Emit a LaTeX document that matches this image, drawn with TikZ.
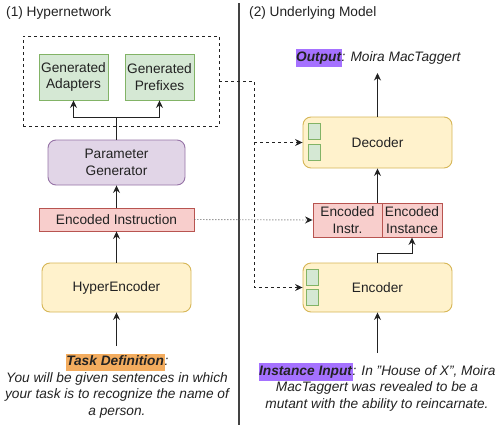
\documentclass[tikz,border=0pt]{standalone}
\usepackage{fontspec}
\setmainfont{Liberation Sans}
\usetikzlibrary{arrows.meta,positioning}
\definecolor{gfill}{HTML}{D5E8D4}\definecolor{gdraw}{HTML}{82B366}
\definecolor{pfill}{HTML}{E1D5E7}\definecolor{pdraw}{HTML}{9673A6}
\definecolor{rfill}{HTML}{F8CECC}\definecolor{rdraw}{HTML}{B85450}
\definecolor{yfill}{HTML}{FFF2CC}\definecolor{ydraw}{HTML}{D6B656}
\definecolor{hlorange}{HTML}{F3AC5E}\definecolor{hlpurple}{HTML}{A571FF}
\definecolor{ink}{HTML}{222222}
\newcommand{\hl}[2]{{\setlength{\fboxsep}{0.6pt}\colorbox{#1}{\strut #2}}}
\begin{document}
\begin{tikzpicture}[x=1pt,y=-1pt,
  every node/.style={font=\fontsize{13.7}{16.5}\selectfont, inner sep=0pt, text=ink},
  gbox/.style={draw=gdraw, fill=gfill, line width=0.9pt, minimum width=69pt, minimum height=46pt, align=center},
  pbox/.style={draw=pdraw, fill=pfill, line width=0.9pt, rounded corners=8pt, align=center},
  rbox/.style={draw=rdraw, fill=rfill, line width=0.9pt, align=center},
  ybox/.style={draw=ydraw, fill=yfill, line width=0.9pt, rounded corners=8pt, align=center},
  sq/.style={draw=gdraw, fill=gfill, line width=0.9pt, minimum width=12pt, minimum height=16pt},
  arr/.style={draw=ink, line width=0.9pt, -{Stealth[length=7.5pt,width=7pt,inset=2.5pt,color=ink]}},
  dasharr/.style={arr, dash pattern=on 3pt off 3pt},
  dotarr/.style={arr, dash pattern=on 1pt off 2pt, draw=ink!70},
]
\useasboundingbox (0,0) rectangle (500,431);

% divider
\draw[line width=1.2pt, draw=ink!85] (239,3) -- (239,425);

% titles
\node[anchor=west] (t1) at (6,13) {(1) Hypernetwork};
\node[anchor=west] (t2) at (249,13) {(2) Underlying Model};

% left side
\node[draw=ink, line width=0.9pt, dash pattern=on 3pt off 3pt, minimum width=196pt, minimum height=90pt] (dbox) at (121,81) {};
\node[gbox] (gadapt) at (73.5,77) {Generated\\Adapters};
\node[gbox] (gpref) at (159.5,77) {Generated\\Prefixes};
\node[pbox, minimum width=137pt, minimum height=45pt] (pgen) at (116.5,162.5) {Parameter\\Generator};
\node[rbox, minimum width=155pt, minimum height=23pt] (encinst) at (116.5,219.5) {Encoded Instruction};
\node[ybox, minimum width=149pt, minimum height=49pt] (hyperenc) at (116.5,287.5) {HyperEncoder};
\node[align=center, font=\fontsize{13.7}{16.5}\selectfont\itshape] (taskdef) at (117,386)
  {\hl{hlorange}{\bfseries Task Definition}:\\You will be given sentences in which\\your task is to recognize the name of\\a person.};

\coordinate (split) at (116.5,117);
\coordinate (taskin) at (116.5,346);
\draw[arr] (pgen.north) -- (split) -| (gadapt.south);
\draw[arr] (split) -| (gpref.south);
\draw[arr] (encinst.north) -- (pgen.south);
\draw[arr] (hyperenc.north) -- (encinst.south);
\draw[arr] (taskin) -- (hyperenc.south);

% right side
\node[font=\fontsize{13.7}{16.5}\selectfont\itshape] (out) at (378,58) {\hl{hlpurple}{\bfseries Output}: Moira MacTaggert};
\node[ybox, minimum width=149pt, minimum height=51pt] (decoder) at (377.5,142.5) {Decoder};
\node[sq] (dsq1) at (314,131.5) {};
\node[sq] (dsq2) at (314,152.5) {};
\node[rbox, minimum width=69pt, minimum height=34pt] (einstr) at (347.5,220) {Encoded\\Instr.};
\node[rbox, minimum width=60pt, minimum height=34pt] (einst) at (412,220) {Encoded\\Instance};
\node[ybox, minimum width=149pt, minimum height=49pt] (encoder) at (377.5,287.5) {Encoder};
\node[sq] (esq1) at (312.5,277) {};
\node[sq] (esq2) at (312.5,297) {};
\node[align=center, font=\fontsize{13.7}{16.5}\selectfont\itshape] (instin) at (377,387)
  {\hl{hlpurple}{\bfseries Instance Input}: In "House of X", Moira\\MacTaggert was revealed to be a\\mutant with the ability to reincarnate.};

\coordinate (outpt) at (377.5,73);
\coordinate (instpt) at (377.5,353);
\coordinate (jx) at (254,81);
\coordinate (jd) at (254,142.5);
\coordinate (ebend) at (377.5,253);
\draw[arr] (decoder.north) -- (outpt);
\draw[arr] (decoder.south |- einstr.north) -- (decoder.south);
\draw[arr] (encoder.north) -- (ebend) -| (einst.south);
\draw[arr] (instpt) -- (encoder.south);

% connectors
\draw[dasharr] (dbox.east) -- (jx) |- (encoder.west);
\draw[dasharr] (jd) -- (decoder.west);
\draw[dotarr] (encinst.east) -- (einstr.west);
\end{tikzpicture}
\end{document}
